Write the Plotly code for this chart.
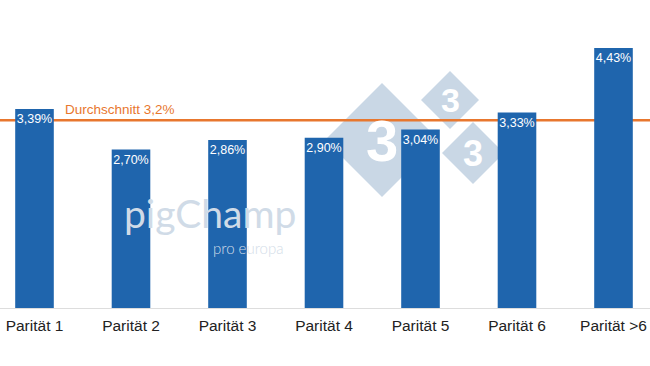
import plotly.graph_objects as go

categories = ["Parität 1", "Parität 2", "Parität 3", "Parität 4", "Parität 5", "Parität 6", "Parität >6"]
values = [3.39, 2.70, 2.86, 2.90, 3.04, 3.33, 4.43]
average = 3.2
average_label = "Durchschnitt 3,2%"

W, H = 650, 366
BASE = 308  # pixel of y=0
PX_PER_UNIT = 58.7
CAT_PX = 96.5
FIRST_CENTER = 34.5

def px(x):
    return x / W

def py(y):
    return (BASE - y) / BASE

fig = go.Figure()

fig.add_trace(go.Bar(
    x=list(range(len(categories))), y=values,
    marker=dict(color="#1f65ad", line=dict(width=0)),
    width=0.40,
    texttemplate="%{y:.2f}%",
    textposition="inside", insidetextanchor="end", textangle=0,
    textfont=dict(color="white", size=12.5, family="Liberation Sans, Arial"),
    constraintext="none",
    cliponaxis=False,
    hoverinfo="skip",
))

# watermark: diamonds with "3"
shapes = []
annotations = []
wm = "#c9d7e5"
for cx, cy, h, fs in [(382, 140, 57, 58), (450, 100, 29, 34), (473, 153, 31, 36)]:
    path = "M {} {} L {} {} L {} {} L {} {} Z".format(
        px(cx), py(cy - h), px(cx + h), py(cy), px(cx), py(cy + h), px(cx - h), py(cy))
    shapes.append(dict(type="path", path=path, xref="paper", yref="paper",
                       fillcolor=wm, line=dict(width=0), layer="below"))
    annotations.append(dict(text="<b>3</b>", x=px(cx), y=py(cy), xref="paper", yref="paper",
                            showarrow=False, font=dict(size=fs, color="white",
                            family="Liberation Sans, Arial"), xanchor="center", yanchor="middle"))

annotations.append(dict(text="pigChamp", x=px(210), y=py(213), xref="paper", yref="paper",
                        showarrow=False, font=dict(size=39, color="#d0dbe7", family="Lato, Noto Sans"),
                        xanchor="center", yanchor="middle"))
annotations.append(dict(text="pro europa", x=px(248), y=py(248), xref="paper", yref="paper",
                        showarrow=False, font=dict(size=15, color="#d3dde8", family="Lato, Noto Sans",
                        weight=300), xanchor="center", yanchor="middle"))

# average line (drawn beneath the bars)
shapes.append(dict(type="line", xref="paper", yref="y", x0=0, x1=1, y0=average, y1=average,
                   line=dict(color="#e8772e", width=2.5), layer="below"))
annotations.append(dict(text=average_label, x=px(63), y=average, xref="paper", yref="y",
                        showarrow=False, xanchor="left", yanchor="bottom", yshift=1,
                        font=dict(size=13.5, color="#e8772e", family="Liberation Sans, Arial")))

xmin = -FIRST_CENTER / CAT_PX
xmax = xmin + W / CAT_PX

fig.update_layout(
    width=W, height=H,
    margin=dict(l=0, r=0, t=0, b=H - BASE),
    plot_bgcolor="white", paper_bgcolor="white",
    separators=",.",
    showlegend=False,
    shapes=shapes,
    annotations=annotations,
    xaxis=dict(range=[xmin, xmax], tickmode="array", tickvals=list(range(len(categories))),
               ticktext=categories, showgrid=False, zeroline=False, showline=False,
               ticks="", ticklabelstandoff=6,
               tickfont=dict(size=15.5, color="#222222", family="Liberation Sans, Arial")),
    yaxis=dict(range=[0, BASE / PX_PER_UNIT], showgrid=False, zeroline=True, zerolinecolor="#dddddd",
               zerolinewidth=1, showticklabels=False, showline=False, ticks=""),
)

fig.write_html("out.html", config={"displayModeBar": False},
               post_script="document.body.style.margin='0';")
